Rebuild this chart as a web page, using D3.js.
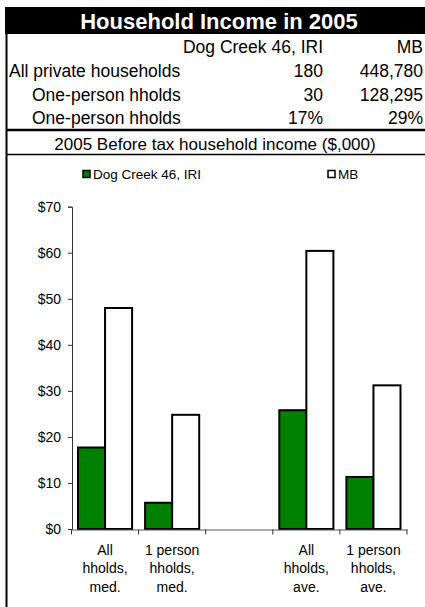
<!DOCTYPE html>
<html>
<head>
<meta charset="utf-8">
<script src="https://cdn.jsdelivr.net/npm/d3@7"></script>
<style>
  html, body { margin: 0; padding: 0; background: #fff; }
  svg { display: block; font-family: "Liberation Sans", Arial, sans-serif; }
</style>
</head>
<body>
<svg id="chart" width="425" height="607"></svg>
<script>
// ---- Data ----
const title = "Household Income in 2005";
const tableHeader = ["", "Dog Creek 46, IRI", "MB"];
const rowLabels = ["All private households", "One-person hholds", "One-person hholds"];
const rowIndent = [false, true, true];
const dogCreekCounts = ["180", "30", "17%"];
const mbCounts = ["448,780", "128,295", "29%"];
const subtitle = "2005 Before tax household income ($,000)";

const seriesNames = ["Dog Creek 46, IRI", "MB"];
const seriesColors = ["#008000", "#ffffff"];
const categories = ["All\nhholds,\nmed.", "1 person\nhholds,\nmed.", " ", "All\nhholds,\nave.", "1 person\nhholds,\nave."];
const dogCreekIncome = [17.7, 5.7, null, 25.8, 11.3];
const mbIncome = [48.0, 24.8, null, 60.4, 31.2];
const yTicks = [0, 10, 20, 30, 40, 50, 60, 70];

// ---- Drawing ----
const svg = d3.select("#chart");

// Title bar
svg.append("rect").attr("x", 5).attr("y", 7).attr("width", 425).attr("height", 27).attr("fill", "#000");
svg.append("text").attr("x", 219).attr("y", 28.5).attr("text-anchor", "middle")
  .attr("fill", "#fff").attr("font-weight", "bold").attr("font-size", 22).text(title);

// Left border
svg.append("line").attr("x1", 6.5).attr("x2", 6.5).attr("y1", 7).attr("y2", 607)
  .attr("stroke", "#000").attr("stroke-width", 2);

// Table
const fs = 17.5;
const col1Right = 323, col2Right = 423;
const rowBase = [53.3, 77, 100.7, 124.4];
svg.append("text").attr("x", col1Right).attr("y", rowBase[0]).attr("text-anchor", "end")
  .attr("font-size", fs).text(tableHeader[1]);
svg.append("text").attr("x", col2Right).attr("y", rowBase[0]).attr("text-anchor", "end")
  .attr("font-size", fs).text(tableHeader[2]);
rowLabels.forEach((lab, i) => {
  const y = rowBase[i + 1];
  svg.append("text").attr("x", rowIndent[i] ? 32 : 9).attr("y", y).attr("font-size", fs).text(lab);
  svg.append("text").attr("x", col1Right).attr("y", y).attr("text-anchor", "end").attr("font-size", fs).text(dogCreekCounts[i]);
  svg.append("text").attr("x", col2Right).attr("y", y).attr("text-anchor", "end").attr("font-size", fs).text(mbCounts[i]);
});
svg.append("line").attr("x1", 6).attr("x2", 425).attr("y1", 130).attr("y2", 130)
  .attr("stroke", "#000").attr("stroke-width", 2.5);
svg.append("text").attr("x", 215).attr("y", 149.5).attr("text-anchor", "middle")
  .attr("font-size", 17).text(subtitle);
svg.append("line").attr("x1", 6).attr("x2", 425).attr("y1", 154.5).attr("y2", 154.5)
  .attr("stroke", "#000").attr("stroke-width", 1.5);

// Chart scales
const y = d3.scaleLinear().domain([0, 70]).range([529, 206.7]);
const x0 = d3.scaleBand().domain(categories).range([71.5, 407]).padding(0);
const x1 = d3.scaleBand().domain(seriesNames).range([6.5, x0.bandwidth() - 6.5]).padding(0);

// Bars
const seriesValues = [dogCreekIncome, mbIncome];
categories.forEach((c, ci) => {
  seriesNames.forEach((s, si) => {
    const v = seriesValues[si][ci];
    if (v == null) return;
    svg.append("rect")
      .attr("x", x0(c) + x1(s))
      .attr("width", x1.bandwidth())
      .attr("y", y(v))
      .attr("height", y(0) - y(v))
      .attr("fill", seriesColors[si])
      .attr("stroke", "#000")
      .attr("stroke-width", 2);
  });
});

// Y axis
const yAxis = d3.axisLeft(y).tickValues(yTicks).tickSize(4).tickPadding(7)
  .tickFormat(d => "$" + d);
const gy = svg.append("g").attr("transform", "translate(72,0)").call(yAxis);
gy.select(".domain").attr("stroke", "#333");
gy.selectAll(".tick line").attr("stroke", "#333");
gy.selectAll(".tick text").attr("font-size", 14).attr("fill", "#000")
  .attr("font-family", "Liberation Sans, Arial, sans-serif");

// X axis
const xAxis = d3.axisBottom(x0).tickSize(0).tickFormat(() => "");
const gx = svg.append("g").attr("transform", "translate(0,529.5)").call(xAxis);
gx.select(".domain").attr("stroke", "#555");
const bounds = categories.map(c => x0(c)).concat([x0.range()[1]]);
gx.selectAll(".bt").data(bounds).enter().append("line")
  .attr("x1", d => d).attr("x2", d => d).attr("y1", 0).attr("y2", 5)
  .attr("stroke", "#333");

// X labels (multi-line)
categories.forEach(c => {
  const lines = c.split("\n");
  const t = svg.append("text").attr("text-anchor", "middle").attr("font-size", 14);
  lines.forEach((ln, i) => {
    t.append("tspan").attr("x", x0(c) + x0.bandwidth() / 2)
      .attr("y", 555 + i * 18.3).text(ln);
  });
});

// Legend
const legendX = [82, 327];
seriesNames.forEach((s, i) => {
  svg.append("rect").attr("x", legendX[i] + 1).attr("y", 170.5).attr("width", 7).attr("height", 7)
    .attr("fill", seriesColors[i]).attr("stroke", "#000").attr("stroke-width", 1.5);
  svg.append("text").attr("x", legendX[i] + 11).attr("y", 178.5).attr("font-size", 13.5)
    .text(s);
});
</script>
</body>
</html>
